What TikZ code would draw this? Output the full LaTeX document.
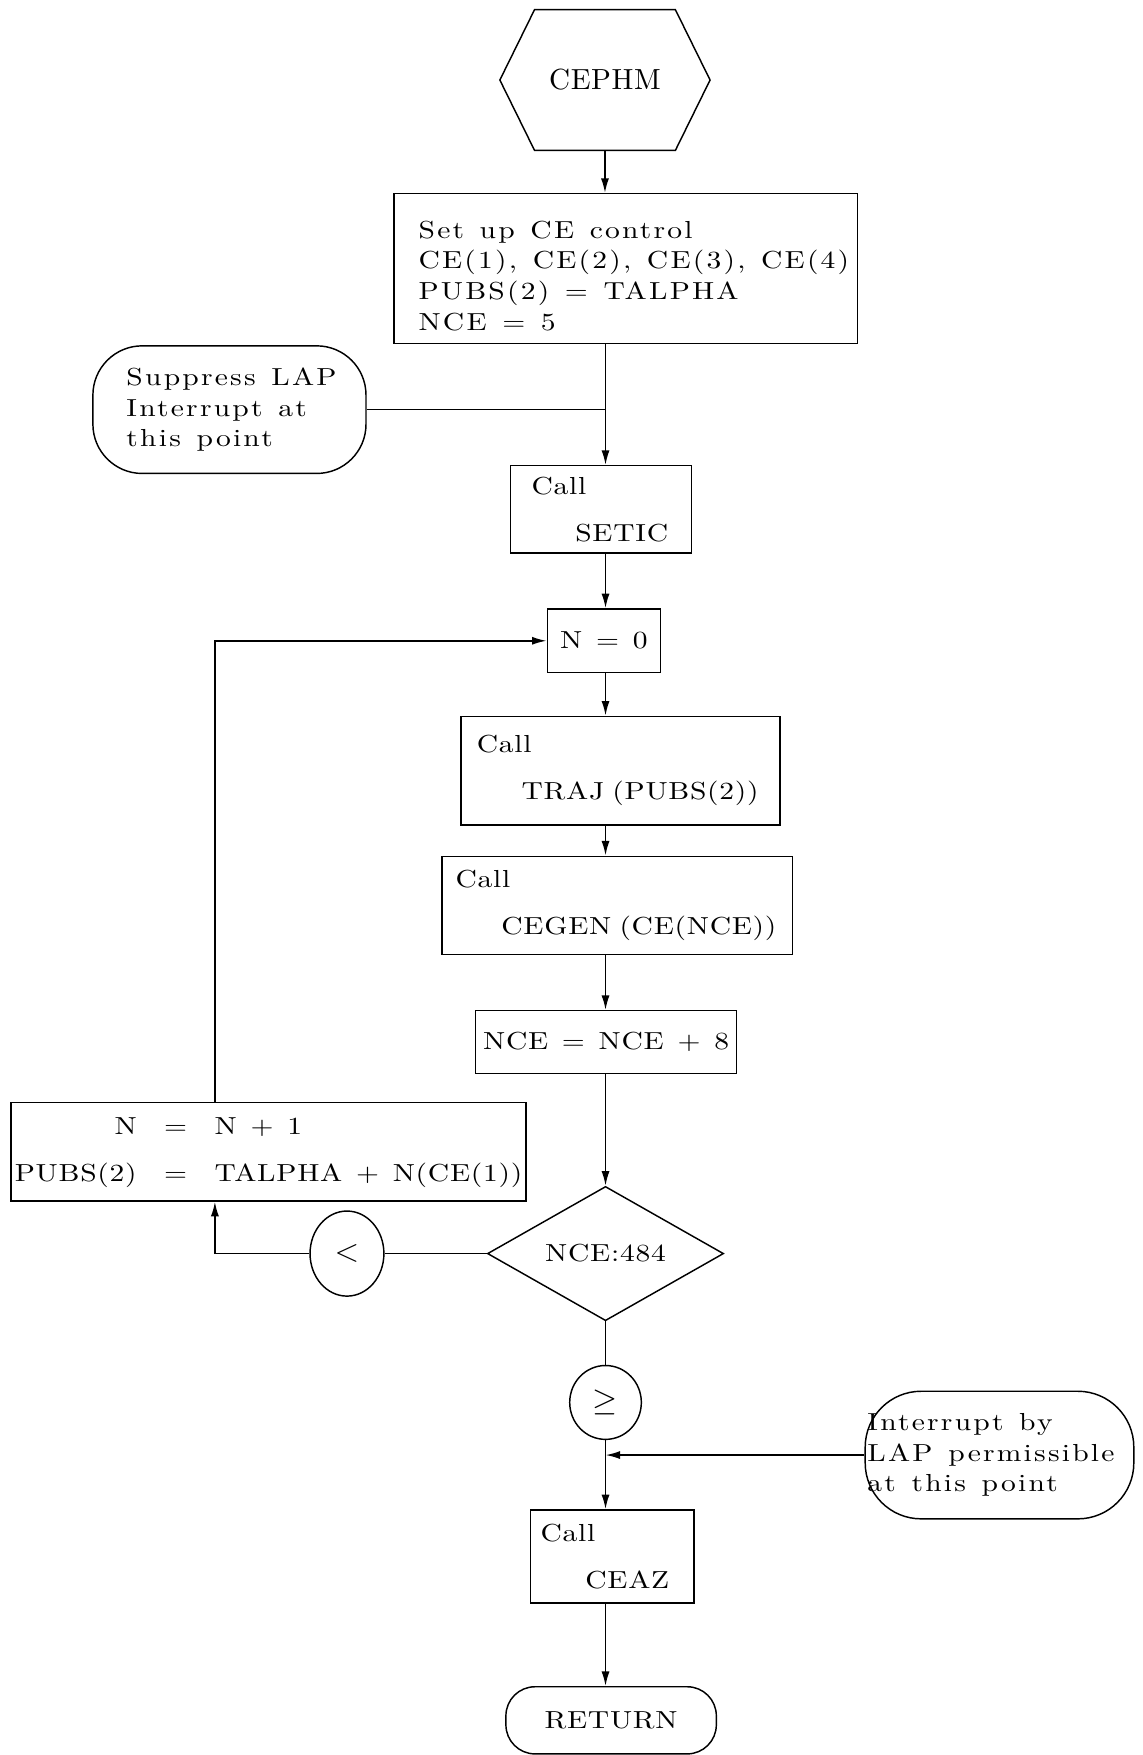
\documentclass[tikz,border=0pt]{standalone}
\usepackage{fontspec}
\newfontfamily\flowfont{lmroman10-regular.otf}[FakeStretch=1.2,LetterSpace=3,WordSpace=1.3]
\newfontfamily\wideflowfont{lmroman10-regular.otf}[FakeStretch=1.2,LetterSpace=9]
\newfontfamily\titlefont{lmroman10-regular.otf}[LetterSpace=2]
\newcommand\widesp{\spaceskip=7pt plus 1pt\relax}
\usetikzlibrary{arrows.meta,shapes.geometric,calc}
\begin{document}
\begin{tikzpicture}[x=0.5pt,y=-0.5pt,
  every node/.style={font=\flowfont\fontsize{11}{13.7}\selectfont},
  wide/.style={font=\wideflowfont\fontsize{11}{13.7}\selectfont},
  box/.style={draw,line width=0.65pt,inner sep=0pt,align=left},
  note/.style={draw,line width=0.65pt,inner sep=0pt,align=left,rounded corners=22pt},
  conn/.style={line width=0.75pt},
  arr/.style={conn,-{Latex[length=6.5pt,width=3.6pt]}},
  ring/.style={draw,line width=0.65pt,ellipse,inner sep=0pt}
]
\useasboundingbox (0,0) rectangle (1021,1568);

% start terminal (hexagon drawn around an invisible frame)
\node[minimum width=93.5pt,minimum height=62.5pt,inner sep=0pt,font=\titlefont\fontsize{13}{15}\selectfont]
  (cephm) at (540.5,71.5) {CEPHM};
\draw[line width=0.65pt] ($(cephm.north west)+(15.5pt,0)$) -- ($(cephm.north east)+(-15.5pt,0)$)
  -- (cephm.east) -- ($(cephm.south east)+(-15.5pt,0)$) -- ($(cephm.south west)+(15.5pt,0)$)
  -- (cephm.west) -- cycle;

\coordinate (spine) at (541,0);
\coordinate (lp) at (192,0);

\node[box,wide,minimum width=207pt,minimum height=67pt,text width=185pt] (setup) at (559,240)
  {\widesp\rule{0pt}{14pt}\mbox{Set up CE control}\\\mbox{CE(1), CE(2), CE(3), CE(4)}\\\mbox{PUBS(2) = TALPHA}\\\mbox{NCE = 5}};

\node[note,wide,minimum width=122pt,minimum height=57pt,text width=92pt] (supp) at (205,366)
  {\widesp\mbox{Suppress LAP}\\\mbox{Interrupt at}\\\mbox{this point}};

\node[box,minimum width=81pt,minimum height=39pt,text width=62pt] (setic) at (537,455)
  {Call\\[7.3pt]\hspace*{19.5pt}SETIC};

\node[box,minimum width=50.5pt,minimum height=28.5pt,align=center] (nzero) at (539.5,572.5) {N = 0};

\node[box,minimum width=142.5pt,minimum height=48.5pt,text width=128.5pt] (traj) at (554.5,688.5)
  {Call\\[7.3pt]\hspace*{20pt}\mbox{TRAJ (PUBS(2))}};

\node[box,minimum width=156.5pt,minimum height=44pt,text width=144.5pt] (cegen) at (551.5,809)
  {Call\\[7.3pt]\hspace*{20.5pt}\mbox{CEGEN (CE(NCE))}};

\node[box,minimum width=116.5pt,minimum height=28pt,align=center] (nce) at (541.5,931) {NCE = NCE + 8};

\node[box,minimum width=230pt,minimum height=44pt,align=center] (ninc) at (240,1029)
  {\begin{tabular}{@{}r@{\ \ =\ \ }l@{}}N & N + 1\\[7.5pt] PUBS(2) & TALPHA + N(CE(1))\end{tabular}};

\node[draw,line width=0.65pt,diamond,aspect=1.76,minimum width=105.5pt,minimum height=60pt,inner sep=0pt]
  (dec) at (541,1120) {NCE:484};

\node[ring,minimum width=33pt,minimum height=38pt,font=\fontsize{15}{15}\selectfont] (lt) at (310,1120) {$<$};
\node[ring,minimum width=32pt,minimum height=33pt,font=\fontsize{14}{14}\selectfont] (ge) at (541,1253) {$\geq$};

\node[note,wide,minimum width=120pt,minimum height=57pt,text width=118pt,rounded corners=25pt] (intr) at (893,1300)
  {\widesp\mbox{Interrupt by}\\\mbox{LAP permissible}\\\mbox{at this point}};

\node[box,minimum width=73pt,minimum height=41.5pt,text width=64pt] (ceaz) at (547,1390.5)
  {Call\\[7.3pt]\hspace*{20pt}CEAZ};

\node[draw,line width=0.65pt,minimum width=94pt,minimum height=30pt,rounded corners=13pt,inner sep=0pt]
  (ret) at (546,1537) {RETURN};

% connectors
\draw[arr] (cephm.south) -- (cephm.south |- setup.north);
\draw[arr] (setup.south -| spine) -- (setic.north -| spine);
\draw[conn] (supp.east) -- (supp.east -| spine);
\draw[arr] (setic.south -| spine) -- (nzero.north -| spine);
\draw[arr] (nzero.south -| spine) -- (traj.north -| spine);
\draw[arr] (traj.south -| spine) -- (cegen.north -| spine);
\draw[arr] (cegen.south -| spine) -- (nce.north -| spine);
\draw[arr] (nce.south -| spine) -- (dec.north);
\draw[conn] (dec.west) -- (lt.east);
\draw[arr] (lt.west) -| (ninc.south -| lp);
\draw[arr] (ninc.north -| lp) |- (nzero.west);
\draw[conn] (dec.south) -- (ge.north);
\draw[arr] (ge.south) -- (ceaz.north -| spine);
\draw[arr] (intr.west) -- (intr.west -| spine);
\draw[arr] (ceaz.south -| spine) -- (ret.north -| spine);
\end{tikzpicture}
\end{document}
